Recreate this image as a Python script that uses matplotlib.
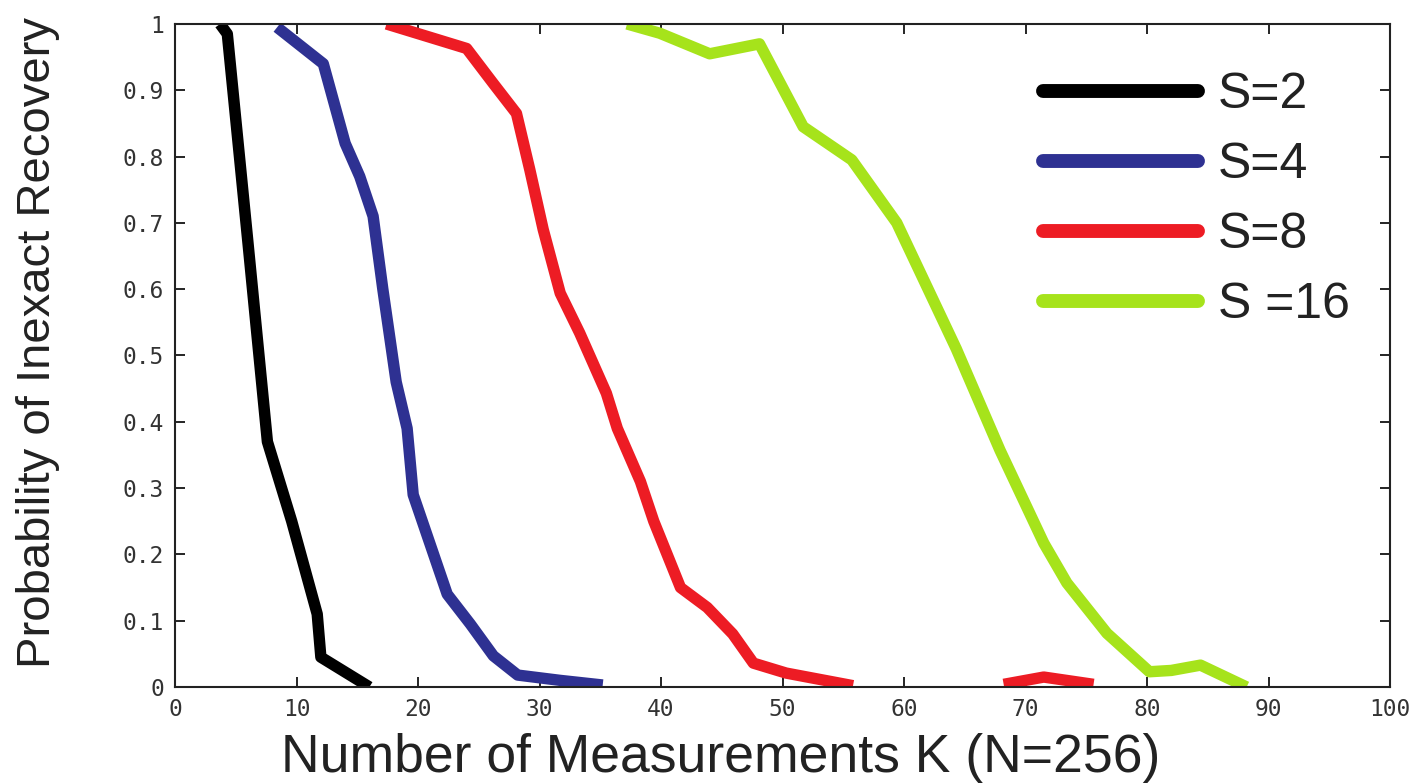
import numpy as np
import matplotlib
matplotlib.use("Agg")
import matplotlib.pyplot as plt

# ---- data ----
k_s2 = [3.7, 4.3, 6.0, 7.6, 8.6, 9.6, 10.5, 11.7, 12.0, 16.0]
p_s2 = [1.0, 0.985, 0.67, 0.37, 0.31, 0.25, 0.19, 0.11, 0.045, 0.0]

k_s4 = [8.4, 12.2, 14.0, 15.2, 16.3, 17.1, 18.2, 19.1, 19.6, 22.4, 24.3, 26.2, 28.2, 31.7, 35.2]
p_s4 = [0.995, 0.94, 0.82, 0.77, 0.71, 0.60, 0.46, 0.39, 0.29, 0.14, 0.095, 0.047, 0.018, 0.01, 0.003]

k_s8 = [17.4, 24.0, 26.2, 28.1, 29.2, 30.3, 31.7, 33.3, 35.5, 36.4, 38.3, 39.4, 41.6, 43.8, 45.9,
        47.6, 50.3, 55.8, np.nan, 68.2, 71.5, 75.6]
p_s8 = [1.0, 0.963, 0.91, 0.865, 0.78, 0.69, 0.594, 0.534, 0.443, 0.39, 0.31, 0.25, 0.15, 0.12, 0.08,
        0.036, 0.021, 0.002, np.nan, 0.004, 0.015, 0.004]

k_s16 = [37.2, 39.9, 44.0, 48.1, 51.7, 55.7, 59.4, 64.3, 67.9, 71.5, 73.4, 76.7, 80.2, 82.0, 84.4, 88.2]
p_s16 = [1.0, 0.986, 0.955, 0.97, 0.845, 0.795, 0.70, 0.51, 0.357, 0.217, 0.157, 0.081, 0.023, 0.025, 0.033, 0.0]

labels = ["S=2", "S=4", "S=8", "S =16"]
colors = ["#000000", "#2E3192", "#ED1C24", "#A6E31B"]

x_ticks = [0, 10, 20, 30, 40, 50, 60, 70, 80, 90, 100]
y_ticks = [0, 0.1, 0.2, 0.3, 0.4, 0.5, 0.6, 0.7, 0.8, 0.9, 1]
y_tick_labels = ["0", "0.1", "0.2", "0.3", "0.4", "0.5", "0.6", "0.7", "0.8", "0.9", "1"]

x_label = "Number of Measurements K (N=256)"
y_label = "Probability of Inexact Recovery"

# ---- plot ----
fig = plt.figure(figsize=(14.21, 7.83), dpi=100)
ax = fig.add_axes([0.1232, 0.1226, 0.8550, 0.8468])

series = [(k_s2, p_s2), (k_s4, p_s4), (k_s8, p_s8), (k_s16, p_s16)]
for (k, p), lab, c in zip(series, labels, colors):
    ax.plot(k, p, color=c, lw=8.2, label=lab, solid_joinstyle="round", solid_capstyle="butt", clip_on=True)

ax.set_xlim(0, 100)
ax.set_ylim(0, 1)
ax.set_xticks(x_ticks)
ax.set_yticks(y_ticks)
ax.set_yticklabels(y_tick_labels)
ax.tick_params(direction="in", length=7, width=1.2, top=True, right=True,
               labelsize=16.5, labelcolor="#333333", pad=8)
for lab in ax.get_xticklabels() + ax.get_yticklabels():
    lab.set_family("DejaVu Sans Mono")
for sp in ax.spines.values():
    sp.set_linewidth(1.5)
    sp.set_color("#222222")

ax.set_xlabel(x_label, fontsize=38.5, family="Liberation Sans", color="#222222")
ax.xaxis.set_label_coords(0.449, -0.145)
ax.xaxis.label.set_va("bottom")
ax.set_ylabel(y_label, fontsize=34, family="Liberation Sans", color="#222222")
ax.yaxis.set_label_coords(-0.113, 0.519)
ax.yaxis.label.set_va("center")

leg = ax.legend(loc="upper right", bbox_to_anchor=(0.996, 0.98), frameon=False,
                prop={"family": "Liberation Sans", "size": 36},
                handlelength=3.1, handletextpad=0.4, labelspacing=0.48, borderaxespad=0.3)
for line in leg.get_lines():
    line.set_linewidth(10)
    line.set_solid_capstyle("round")
for t in leg.get_texts():
    t.set_color("#222222")

fig.savefig("out.png", dpi=100)
